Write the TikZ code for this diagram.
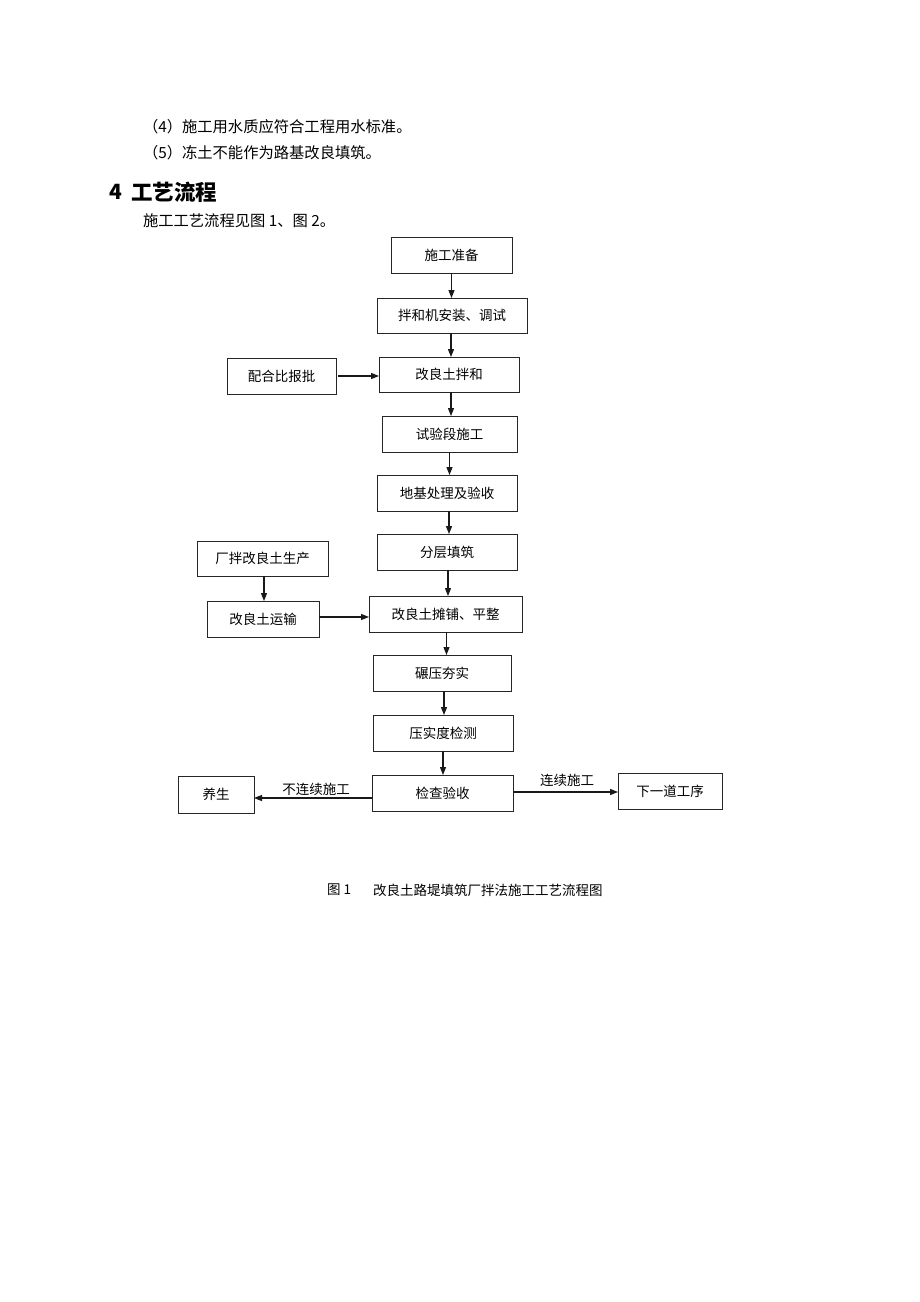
\documentclass[tikz,border=0pt]{standalone}
\usepackage{fontspec}
\usetikzlibrary{arrows.meta}
\newfontfamily\song{Noto Sans CJK SC}
\begin{document}
\begin{tikzpicture}[x=1pt,y=-1pt,
  every node/.style={inner sep=0pt,outer sep=0pt},
  box/.style={draw=black!85,line width=1pt,fill=white,font=\song\fontsize{13.5pt}{16pt}\selectfont},
  arr/.style={draw=black!90,line width=1.1pt,-{Triangle[length=8pt,width=6pt]}},
  lbl/.style={font=\song\fontsize{13.5pt}{16pt}\selectfont},
  body/.style={font=\song\fontsize{15.3pt}{18pt}\selectfont,anchor=west}]
\useasboundingbox[fill=white] (0,0) rectangle (920,1302);
% text above
\node[body] (t4) at (143,127) {（4）施工用水质应符合工程用水标准。};
\node[body] (t5) at (143,153) {（5）冻土不能作为路基改良填筑。};
\node[anchor=west,font=\song\bfseries\fontsize{21pt}{24pt}\selectfont] (hnum) at (109,192) {4};
\node[anchor=west,font=\song\bfseries\fontsize{21.5pt}{24pt}\selectfont] (htxt) at (131,192) {工艺流程};
\node[body] (tref) at (143,221) {施工工艺流程见图 1、图 2。};
% boxes
\node[box,minimum width=121pt,minimum height=36pt] (prep) at (451.5,255) {施工准备};
\node[box,minimum width=150pt,minimum height=35pt] (mixer) at (452,315.5) {拌和机安装、调试};
\node[box,minimum width=109pt,minimum height=36pt] (ratio) at (281.5,376) {配合比报批};
\node[box,minimum width=140pt,minimum height=35pt] (mix) at (449,374.5) {改良土拌和};
\node[box,minimum width=135pt,minimum height=36pt] (trial) at (449.5,434) {试验段施工};
\node[box,minimum width=140pt,minimum height=36pt] (base) at (447,493) {地基处理及验收};
\node[box,minimum width=140pt,minimum height=36pt] (layer) at (447,552) {分层填筑};
\node[box,minimum width=131pt,minimum height=35pt] (prod) at (262.5,558.5) {厂拌改良土生产};
\node[box,minimum width=112pt,minimum height=36pt] (trans) at (263,619) {改良土运输};
\node[box,minimum width=153pt,minimum height=36pt] (spread) at (445.5,614) {改良土摊铺、平整};
\node[box,minimum width=138pt,minimum height=36pt] (roll) at (442,673) {碾压夯实};
\node[box,minimum width=140pt,minimum height=36pt] (test) at (443,733) {压实度检测};
\node[box,minimum width=141pt,minimum height=36pt] (check) at (442.5,793) {检查验收};
\node[box,minimum width=76pt,minimum height=37pt] (cure) at (216,794.5) {养生};
\node[box,minimum width=104pt,minimum height=36pt] (next) at (670,791) {下一道工序};
% connectors
\draw[arr] (prep.south) -- (prep.south |- mixer.north);
\draw[arr] ([xshift=-1pt]mixer.south) -- ([xshift=-1pt]mixer.south |- mix.north);
\draw[arr] ([xshift=2pt]ratio.east) -- (mix.west |- ratio.east);
\draw[arr] ([xshift=2pt]mix.south) -- ([xshift=2pt]mix.south |- trial.north);
\draw[arr] (trial.south) -- (trial.south |- base.north);
\draw[arr] ([xshift=2pt]base.south) -- ([xshift=2pt]base.south |- layer.north);
\draw[arr] ([xshift=1pt]layer.south) -- ([xshift=1pt]layer.south |- spread.north);
\draw[arr] ([xshift=1.5pt]prod.south) -- ([xshift=1.5pt]prod.south |- trans.north);
\draw[arr] ([yshift=2pt]trans.east) -- ([yshift=2pt]trans.east -| spread.west);
\draw[arr] ([xshift=1pt]spread.south) -- ([xshift=1pt]spread.south |- roll.north);
\draw[arr] ([xshift=2pt]roll.south) -- ([xshift=2pt]roll.south |- test.north);
\draw[arr] (test.south) -- (test.south |- check.north);
\draw[arr] ([yshift=-5pt]check.west) -- ([yshift=-5pt]check.west -| cure.east);
\draw[arr] ([yshift=1pt]check.east) -- ([yshift=1pt]check.east -| next.west);
\node[lbl] (lnc) at (316,789) {不连续施工};
\node[lbl] (lc) at (567,780) {连续施工};
% caption
\node[lbl,anchor=west] (cap1) at (327,890) {图 1};
\node[lbl,anchor=west] (cap2) at (373,890) {改良土路堤填筑厂拌法施工工艺流程图};
\end{tikzpicture}
\end{document}
